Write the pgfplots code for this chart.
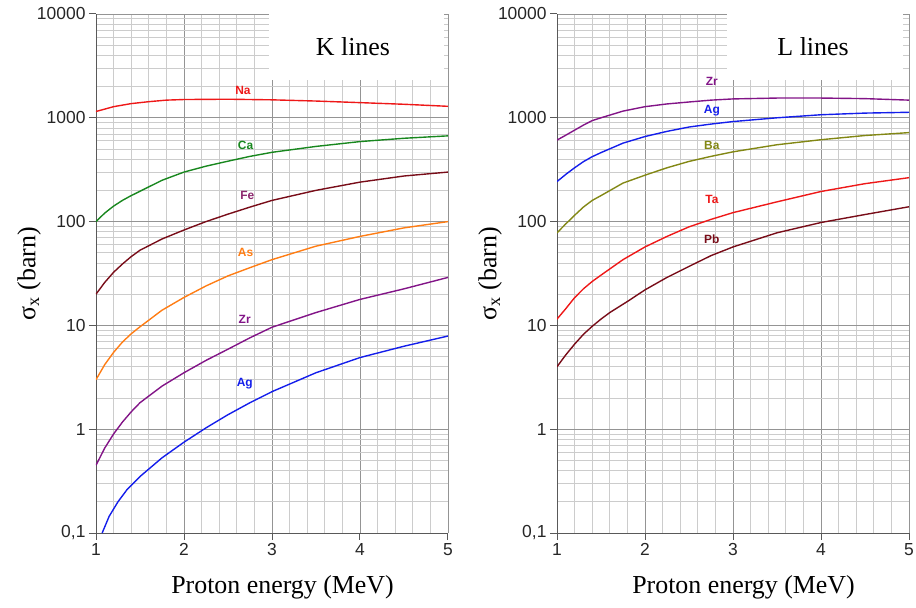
\documentclass[border=0pt]{standalone}
\usepackage{fontspec}
\setmainfont{Liberation Serif}
\setsansfont{Liberation Sans}
\usepackage{pgfplots}
\pgfplotsset{compat=1.18}

\definecolor{cRed}{RGB}{238,24,24}
\definecolor{cGreen}{RGB}{24,135,30}
\definecolor{cMaroon}{RGB}{120,12,24}
\definecolor{cFe}{RGB}{140,40,110}
\definecolor{cOrange}{RGB}{255,125,20}
\definecolor{cPurple}{RGB}{130,20,135}
\definecolor{cBlue}{RGB}{20,30,235}
\definecolor{cOlive}{RGB}{130,135,20}

\tikzset{tag/.style={font=\sffamily\bfseries\fontsize{12}{12}\selectfont}}

\pgfplotsset{
  every axis/.append style={
    scale only axis, width=352bp, height=519bp,
    xmin=1, xmax=5, ymin=0.1, ymax=10000,
    xtick={1,2,3,4,5}, xticklabels={1,2,3,4,5},
    minor xtick={1.2,1.4,1.6,1.8,2.2,2.4,2.6,2.8,3.2,3.4,3.6,3.8,4.2,4.4,4.6,4.8},
    ytick={0.1,1,10,100,1000,10000}, yticklabels={{0,1},1,10,100,1000,10000},
    grid=both,
    major grid style={draw=black!42, line width=0.8pt},
    minor grid style={draw=black!20, line width=0.7pt},
    axis x line*=bottom, axis y line*=left,
    axis line style={draw=black!65, line width=1pt},
    tick align=outside, major tick length=7bp, minor tick length=0pt,
    tick style={draw=black!65, line width=1pt},
    ticklabel style={font=\sffamily\fontsize{17.5}{17.5}\selectfont, text=black!85},
    xlabel={Proton energy (MeV)}, ylabel={σ\textsubscript{x} (barn)},
    xlabel style={font=\fontsize{26}{28}\selectfont, at={(axis description cs:0.53,-0.105)}, anchor=center},
    ylabel style={font=\fontsize{26}{28}\selectfont, at={(axis description cs:-0.19,0.5)}, anchor=center},
  },
  every axis plot/.append style={line width=1.4pt, no markers},
}

\begin{document}
\begin{tikzpicture}
\useasboundingbox (-96bp,-75bp) rectangle (820bp,533bp);

% K lines
\begin{semilogyaxis}[at={(0,0)}]
\fill[white] (axis cs:2.97,2300) rectangle (axis cs:4.95,10000);
\node[font=\fontsize{26}{28}\selectfont] at (axis cs:3.92,4800) {K lines};
% Na
\addplot[cRed] coordinates {(1,1150)(1.2,1280)(1.4,1370)(1.6,1430)(1.8,1480)(2,1500)(2.5,1510)(3,1490)(3.5,1450)(4,1400)(4.5,1350)(5,1290)};
% Ca
\addplot[cGreen] coordinates {(1,100)(1.1,121)(1.2,141)(1.3,160)(1.4,178)(1.5,196)(1.75,250)(2,300)(2.25,342)(2.5,382)(2.75,425)(3,465)(3.5,530)(4,590)(4.5,635)(5,670)};
% Fe
\addplot[cMaroon] coordinates {(1,20)(1.1,26)(1.2,32.5)(1.3,39)(1.4,46)(1.5,53)(1.75,68)(2,83)(2.25,100)(2.5,118)(2.75,138)(3,160)(3.5,200)(4,240)(4.5,275)(5,300)};
% As
\addplot[cOrange] coordinates {(1,3)(1.1,4.2)(1.2,5.5)(1.3,6.9)(1.4,8.3)(1.5,9.7)(1.75,14)(2,18.6)(2.25,24)(2.5,30)(2.75,36)(3,43)(3.5,58)(4,72)(4.5,87)(5,100)};
% Zr
\addplot[cPurple] coordinates {(1,0.45)(1.1,0.66)(1.2,0.9)(1.3,1.17)(1.4,1.47)(1.5,1.8)(1.75,2.6)(2,3.5)(2.25,4.6)(2.5,5.9)(2.75,7.6)(3,9.6)(3.5,13.3)(4,17.8)(4.5,22.5)(5,29)};
% Ag
\addplot[cBlue] coordinates {(1.07,0.1)(1.15,0.145)(1.25,0.2)(1.35,0.26)(1.5,0.35)(1.75,0.53)(2,0.75)(2.25,1.03)(2.5,1.38)(2.75,1.8)(3,2.3)(3.5,3.5)(4,4.9)(4.5,6.3)(5,7.9)};
\node[tag, text=cRed] at (axis cs:2.67,1820) {Na};
\node[tag, text=cGreen] at (axis cs:2.70,540) {Ca};
\node[tag, text=cFe] at (axis cs:2.72,178) {Fe};
\node[tag, text=cOrange] at (axis cs:2.70,51) {As};
\node[tag, text=cPurple] at (axis cs:2.69,11.4) {Zr};
\node[tag, text=cBlue] at (axis cs:2.69,2.76) {Ag};
\end{semilogyaxis}

% L lines
\begin{semilogyaxis}[at={(461bp,0)}]
\fill[white] (axis cs:2.93,2300) rectangle (axis cs:4.93,10000);
\node[font=\fontsize{26}{28}\selectfont] at (axis cs:3.91,4800) {L lines};
% Zr
\addplot[cPurple] coordinates {(1,610)(1.1,680)(1.2,760)(1.3,850)(1.4,940)(1.5,1000)(1.75,1160)(2,1280)(2.25,1360)(2.5,1420)(2.75,1480)(3,1520)(3.5,1550)(4,1550)(4.5,1530)(5,1480)};
% Ag
\addplot[cBlue] coordinates {(1,243)(1.1,285)(1.2,330)(1.3,378)(1.4,422)(1.5,462)(1.75,570)(2,660)(2.25,740)(2.5,815)(2.75,870)(3,920)(3.5,1000)(4,1070)(4.5,1110)(5,1130)};
% Ba
\addplot[cOlive] coordinates {(1,78)(1.1,95)(1.2,115)(1.3,138)(1.4,160)(1.5,178)(1.75,235)(2,280)(2.25,330)(2.5,380)(2.75,425)(3,470)(3.5,550)(4,615)(4.5,675)(5,720)};
% Ta
\addplot[cRed] coordinates {(1,11.5)(1.1,14.5)(1.2,18.5)(1.3,22.5)(1.4,26.5)(1.5,30.5)(1.75,43)(2,57)(2.25,72)(2.5,89)(2.75,105)(3,122)(3.5,155)(4,195)(4.5,232)(5,265)};
% Pb
\addplot[cMaroon] coordinates {(1,4.0)(1.1,5.2)(1.2,6.6)(1.3,8.2)(1.4,9.8)(1.5,11.5)(1.6,13.3)(1.8,17)(2,22)(2.25,29)(2.5,37)(2.75,47)(3,57)(3.5,78)(4,98)(4.5,117)(5,139)};
\node[tag, text=cPurple] at (axis cs:2.76,2230) {Zr};
\node[tag, text=cBlue] at (axis cs:2.76,1170) {Ag};
\node[tag, text=cOlive] at (axis cs:2.76,540) {Ba};
\node[tag, text=cRed] at (axis cs:2.76,162) {Ta};
\node[tag, text=cMaroon] at (axis cs:2.76,67) {Pb};
\end{semilogyaxis}
\end{tikzpicture}
\end{document}
